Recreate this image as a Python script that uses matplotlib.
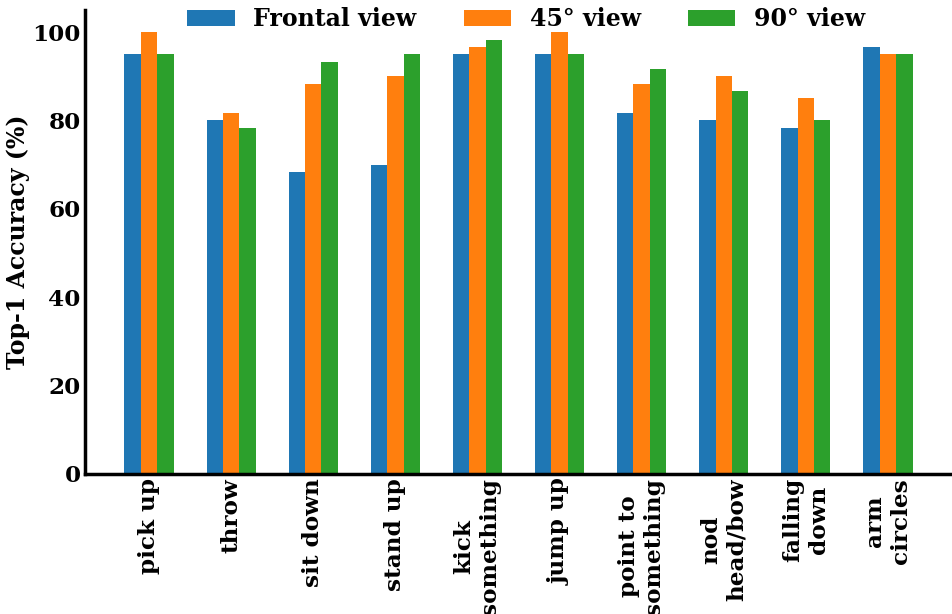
import numpy as np
import matplotlib
matplotlib.use('Agg')
import matplotlib.pyplot as plt

actions = ['pick up', 'throw', 'sit down', 'stand up', 'kick\nsomething', 'jump up',
           'point to\nsomething', 'nod\nhead/bow', 'falling\ndown', 'arm\ncircles']
frontal = [95.0, 80.0, 68.3, 70.0, 95.0, 95.0, 81.7, 80.0, 78.3, 96.7]
view_45 = [100.0, 81.7, 88.3, 90.0, 96.7, 100.0, 88.3, 90.0, 85.0, 95.0]
view_90 = [95.0, 78.3, 93.3, 95.0, 98.3, 95.0, 91.7, 86.7, 80.0, 95.0]

plt.rcParams['font.family'] = 'DejaVu Serif'
plt.rcParams['font.weight'] = 'bold'
plt.rcParams['font.size'] = 16.7

fig = plt.figure(figsize=(9.53, 6.14), dpi=100)
ax = fig.add_axes([85 / 953, 140 / 614, 867 / 953, 464 / 614])

x = np.arange(len(actions))
width = 0.2
ax.bar(x - width, frontal, width, color='#1f77b4', label='Frontal view')
ax.bar(x, view_45, width, color='#ff7f0e', label='45° view')
ax.bar(x + width, view_90, width, color='#2ca02c', label='90° view')

ax.set_xticks(x)
ax.set_xticklabels(actions, rotation=90, fontweight='bold')
ax.set_ylabel('Top-1 Accuracy (%)', fontweight='bold', fontsize=17, labelpad=1.5)
ax.tick_params(axis='both', length=0, pad=3, labelsize=16.7)

ax.spines['top'].set_visible(False)
ax.spines['right'].set_visible(False)
ax.spines['left'].set_linewidth(2.5)
ax.spines['bottom'].set_linewidth(2.5)

ax.legend(loc='upper center', bbox_to_anchor=(0.509, 1.052), ncol=3, frameon=False,
          prop={'weight': 'bold', 'size': 17})

fig.savefig('out.png', dpi=100)
